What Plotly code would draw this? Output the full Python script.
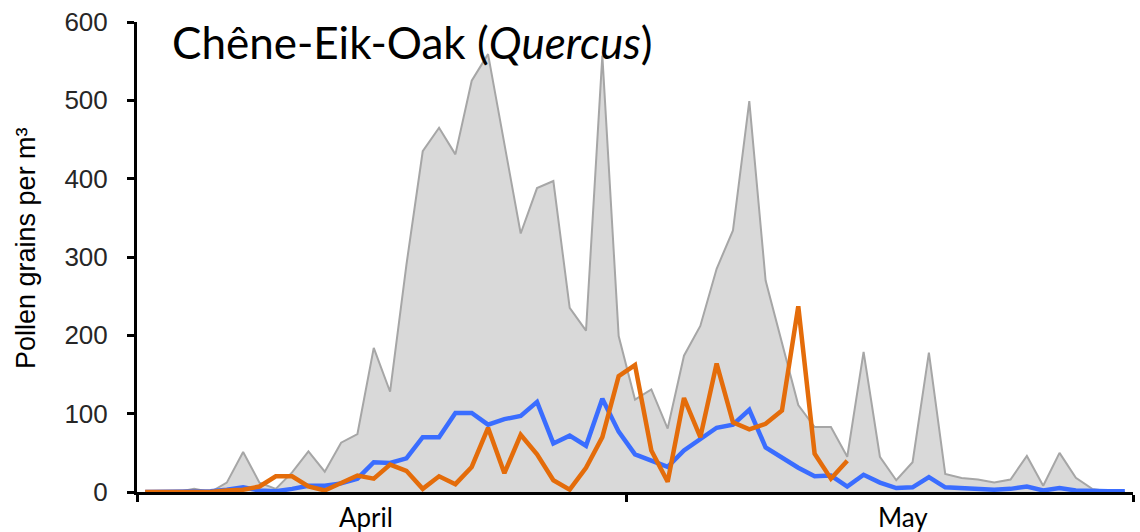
import plotly.graph_objects as go

# Day index: 0 = 1 April ... 60 = 31 May
days = list(range(61))

total_season = [0, 0, 0, 4, 0, 12, 51, 12, 4, 25,
                52, 26, 63, 74, 184, 128, 290, 435, 465, 431,
                525, 559, 445, 330, 388, 397, 235, 206, 557, 199,
                118, 131, 81, 174, 212, 285, 334, 499, 270, 189,
                111, 83, 83, 45, 179, 45, 15, 38, 178, 23,
                18, 16, 12, 16, 46, 8, 50, 18, 4, 1, 0]

blue_series = [0, 0, 0, 0, 1, 3, 6, 2, 1, 4,
               8, 8, 11, 17, 38, 37, 43, 70, 70, 101,
               101, 86, 93, 97, 115, 62, 72, 59, 119, 77,
               48, 40, 32, 53, 67, 82, 86, 105, 57, 44,
               31, 20, 21, 7, 22, 12, 5, 6, 19, 6,
               5, 5, 3, 4, 7, 2, 5, 2, 1, 1, 1]

orange_series = [0, 0, 0, 0, 0, 2, 3, 7, 20, 20,
                 7, 2, 11, 21, 17, 35, 27, 4, 20, 10,
                 32, 82, 24, 73, 48, 15, 3, 31, 70, 148,
                 162, 53, 13, 120, 70, 164, 89, 80, 87, 104,
                 237, 49, 17, 40]

month_labels = ["April", "May"]
month_label_pos = [13.5, 46.4]
month_boundaries = [-0.5, 29.5, 60.5]
y_ticks = [0, 100, 200, 300, 400, 500, 600]

fig = go.Figure()
fig.add_trace(go.Scatter(x=days, y=total_season, mode="lines", fill="tozeroy",
                         fillcolor="#d9d9d9", line=dict(color="#a6a6a6", width=2),
                         showlegend=False, hoverinfo="skip"))
fig.add_trace(go.Scatter(x=days, y=blue_series, mode="lines",
                         line=dict(color="#3a6dff", width=4.5), showlegend=False))
fig.add_trace(go.Scatter(x=days[:len(orange_series)], y=orange_series, mode="lines",
                         line=dict(color="#e46c0a", width=4.5), showlegend=False))

fig.update_layout(
    width=1140, height=532, autosize=False,
    margin=dict(l=137, r=7, t=22, b=40),
    paper_bgcolor="white", plot_bgcolor="white",
    xaxis=dict(range=[-0.5, 60.5], tickvals=month_boundaries,
               ticktext=["" for _ in month_boundaries],
               ticks="outside", ticklen=7, tickwidth=3, tickcolor="black",
               showline=True, linecolor="black", linewidth=3,
               showgrid=False, zeroline=False),
    yaxis=dict(range=[0, 600], tickvals=y_ticks,
               ticks="outside", ticklen=7, tickwidth=3, tickcolor="black",
               showline=True, linecolor="black", linewidth=3,
               showgrid=False, zeroline=False, ticklabelstandoff=14,
               tickfont=dict(family="Liberation Sans", size=26, color="#262626")),
)

for lab, pos in zip(month_labels, month_label_pos):
    fig.add_annotation(x=pos, y=0, xref="x", yref="y", text=lab, showarrow=False,
                       yshift=-25, font=dict(family="Lato", size=26, color="black"))

fig.add_annotation(x=(170 - 137) / 996, y=1 - (42 - 22) / 470, xref="paper", yref="paper",
                   text="Chêne-Eik-Oak (<i>Quercus</i>)", showarrow=False,
                   xanchor="left", yanchor="middle",
                   font=dict(family="Lato", size=44, color="black"))

fig.add_annotation(x=(26 - 137) / 996, y=1 - (248 - 22) / 470, xref="paper", yref="paper",
                   text="Pollen grains per m³", showarrow=False, textangle=-90,
                   xanchor="center", yanchor="middle",
                   font=dict(family="Liberation Sans", size=27, color="black"))

fig.write_html("out.html", config={"displayModeBar": False},
               post_script="document.body.style.margin='0';")
